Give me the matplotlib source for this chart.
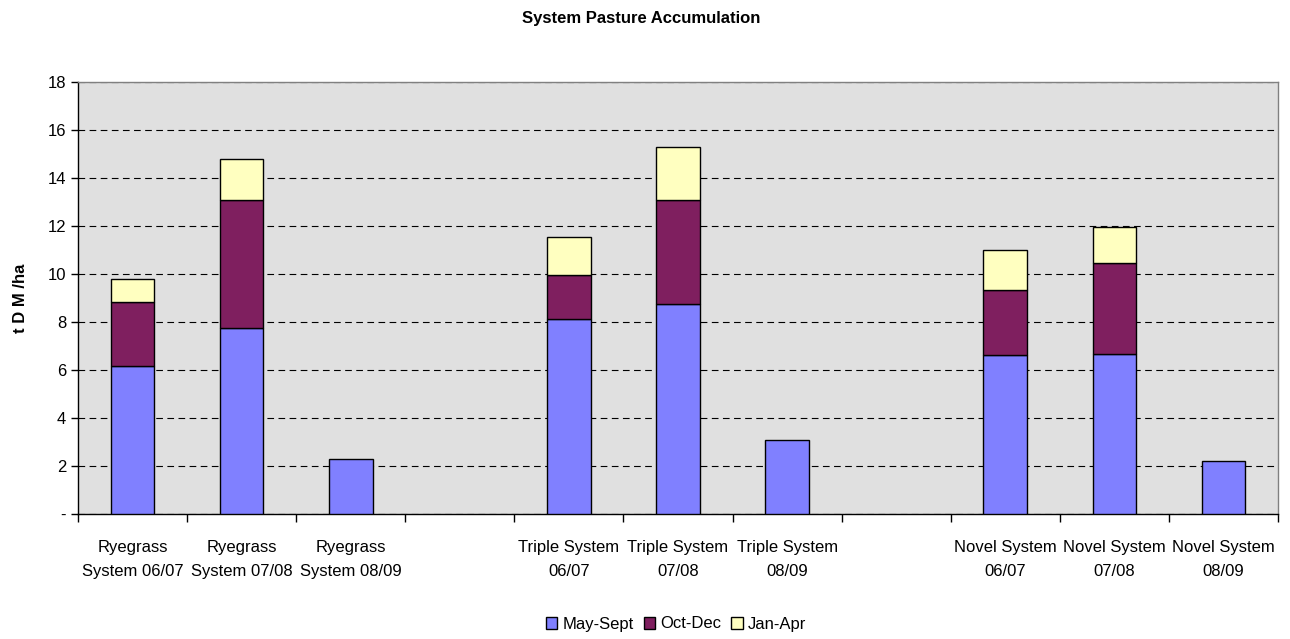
import matplotlib
matplotlib.use("Agg")
import matplotlib.pyplot as plt
import numpy as np
from matplotlib import font_manager

names = {f.name for f in font_manager.fontManager.ttflist}
FONT = "Liberation Sans Narrow" if "Liberation Sans Narrow" in names else "Liberation Sans"
plt.rcParams["font.family"] = [FONT, "DejaVu Sans"]

categories = ["Ryegrass\nSystem 06/07", "Ryegrass\nSystem 07/08", "Ryegrass\nSystem 08/09", "",
              "Triple System\n06/07", "Triple System\n07/08", "Triple System\n08/09", "",
              "Novel System\n06/07", "Novel System\n07/08", "Novel System\n08/09"]
may_sept = [6.17, 7.75, 2.31, 0, 8.14, 8.76, 3.10, 0, 6.61, 6.67, 2.21]
oct_dec = [2.65, 5.32, 0, 0, 1.82, 4.32, 0, 0, 2.71, 3.80, 0]
jan_apr = [0.97, 1.71, 0, 0, 1.60, 2.22, 0, 0, 1.67, 1.48, 0]
series_names = ["May-Sept", "Oct-Dec", "Jan-Apr"]
colors = ["#8080FF", "#7F1F5F", "#FFFFC0"]
yticks = [0, 2, 4, 6, 8, 10, 12, 14, 16, 18]
ytick_labels = ["-", "2", "4", "6", "8", "10", "12", "14", "16", "18"]

fig = plt.figure(figsize=(12.9, 6.39), dpi=100)
ax = fig.add_axes([78 / 1290, 1 - 514 / 639, 1200 / 1290, 432 / 639])
ax.set_facecolor("#E0E0E0")

x = np.arange(len(categories))
bottom = np.zeros(len(categories))
for vals, name, col in zip([may_sept, oct_dec, jan_apr], series_names, colors):
    vals = np.array(vals, dtype=float)
    keep = vals > 0
    ax.bar(x[keep], vals[keep], width=0.4, bottom=bottom[keep], color=col,
           edgecolor="black", linewidth=1.0, label=name, zorder=3)
    bottom += vals

ax.set_xlim(-0.5, len(categories) - 0.5)
ax.set_ylim(0, 18)
ax.set_yticks(yticks)
ax.set_yticklabels(ytick_labels, fontsize=12)
ax.yaxis.grid(True, linestyle=(0, (6, 4)), color="black", linewidth=0.8, zorder=1)

ax.set_xticks(x)
ax.set_xticklabels(categories, fontsize=12, linespacing=1.75)
ax.tick_params(axis="x", length=0, pad=19)
ax.set_xticks(np.arange(-0.5, len(categories)), minor=True)
ax.tick_params(axis="x", which="minor", length=6, width=1, color="black")
ax.tick_params(axis="y", length=5, width=1, color="black")

for side in ["top", "right"]:
    ax.spines[side].set_color("#808080")
    ax.spines[side].set_linewidth(1.0)
for side in ["left", "bottom"]:
    ax.spines[side].set_color("black")
    ax.spines[side].set_linewidth(1.0)

ax.set_ylabel("t D M /ha", fontsize=12, fontweight="bold", labelpad=14)
fig.text(0.497, 1 - 18 / 639, "System Pasture Accumulation", ha="center", va="center",
         fontsize=12, fontweight="bold")

fig.legend(loc="center", bbox_to_anchor=(0.524, 1 - 624 / 639), ncol=3, frameon=False,
           fontsize=12, handlelength=0.7, handleheight=0.7, handletextpad=0.3,
           columnspacing=0.6)

fig.savefig("out.png", dpi=100)
